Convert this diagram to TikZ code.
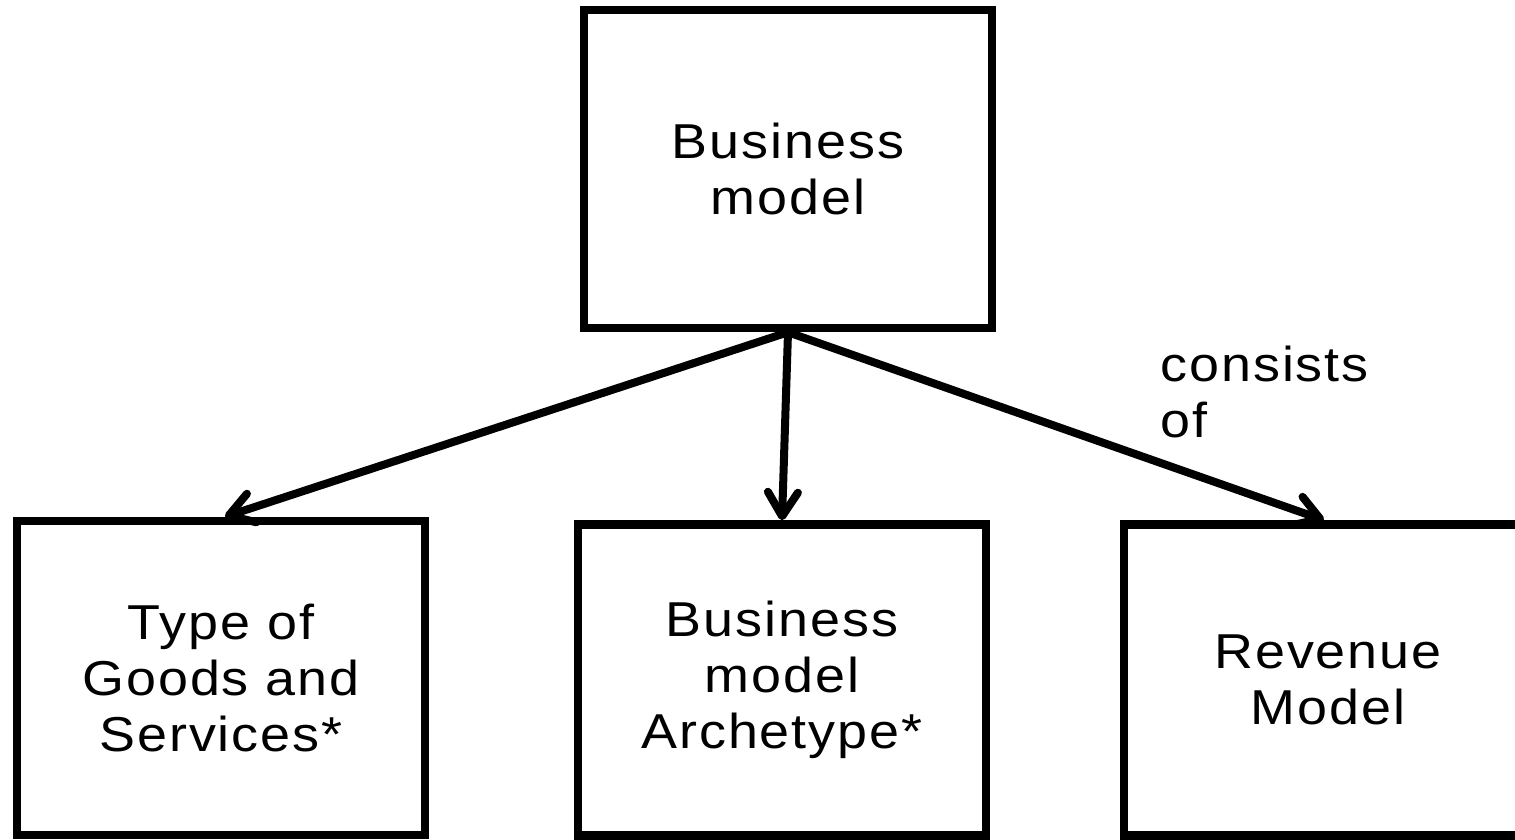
\documentclass[tikz,border=0pt]{standalone}
\usepackage{fontspec}
\setmainfont{Liberation Sans}[LetterSpace=4,FakeStretch=1.1]
\usepackage{tikz}
\usetikzlibrary{
  arrows.meta,
  positioning,
  calc
}

\begin{document}
\begin{tikzpicture}[x=0.5pt,y=0.5pt,
    box/.style={draw,line width=4.25pt,minimum width=204pt,align=center,
      font=\fontsize{24.5pt}{28pt}\selectfont},
    link/.style={line width=4pt,
      -{Straight Barb[length=12pt,width=15pt,round]}}]
  \useasboundingbox (0,0) rectangle (1515,840);
  % Boxes
  \node[box,minimum height=159pt] (bm) at (788,671) {Business\\model};
  \node[box,minimum height=157pt] (goods) at (221,162) {Type of\\Goods and\\Services*};
  \node[box,minimum height=155.5pt] (arch) at (782,160) {Business\\model\\Archetype*};
  \node[box,minimum height=155.5pt] (rev) at (1328,160) {Revenue\\Model};
  % Arrows
  \draw[link] (bm.south) -- ([xshift=2pt]goods.north);
  \draw[link] (bm.south) -- (arch.north);
  \draw[link] (bm.south) -- ([xshift=-2pt]rev.north);
  % Label
  \node[anchor=west,inner sep=0pt,align=left,
    font=\fontsize{24.5pt}{28pt}\selectfont] (cons) at (1160,448) {consists\\of};
\end{tikzpicture}
\end{document}
